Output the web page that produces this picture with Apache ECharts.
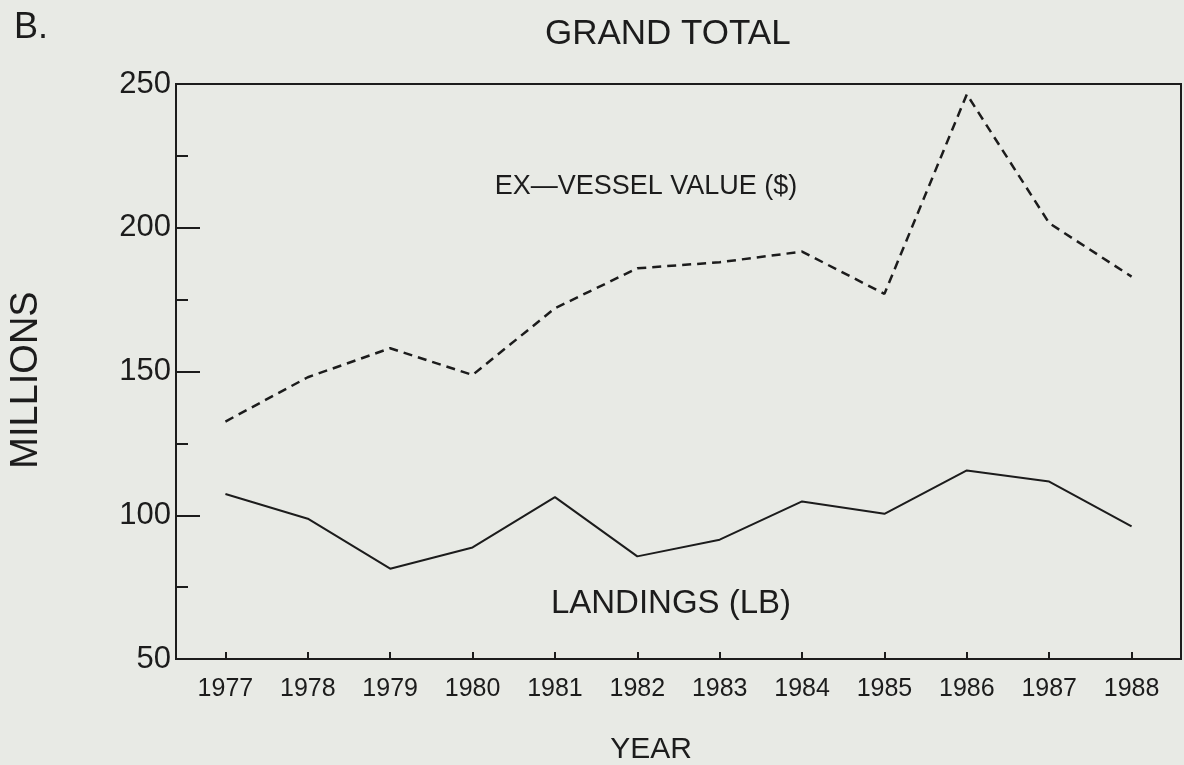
<!DOCTYPE html>
<html>
<head>
<meta charset="utf-8">
<script src="https://cdn.jsdelivr.net/npm/echarts@6/dist/echarts.min.js"></script>
<style>
  html, body { margin: 0; padding: 0; background: #e8eae5; }
  #main { width: 1184px; height: 765px; }
</style>
</head>
<body>
<div id="main"></div>
<script>
// values (millions)
var years = [1977, 1978, 1979, 1980, 1981, 1982, 1983, 1984, 1985, 1986, 1987, 1988];
var landings = [107.4, 98.8, 81.4, 88.8, 106.3, 85.7, 91.5, 104.8, 100.5, 115.6, 111.7, 96.1];
var exVessel = [132.6, 148.0, 158.1, 148.8, 172.0, 185.9, 188.0, 191.7, 177.0, 246.4, 201.6, 183.0];
var yTicks = [50, 100, 150, 200, 250];

var ink = '#1c1c1c';
var font = 'Liberation Sans, Arial, sans-serif';

var chart = echarts.init(document.getElementById('main'));

chart.setOption({
  animation: false,
  backgroundColor: '#e8eae5',
  title: {
    text: 'GRAND TOTAL',
    left: 540,
    top: 12,
    textStyle: { fontFamily: font, fontWeight: 'normal', fontSize: 35, color: ink }
  },
  grid: {
    left: 176,
    right: 3,
    top: 84,
    bottom: 106,
    show: true,
    borderColor: ink,
    borderWidth: 2,
    backgroundColor: 'transparent'
  },
  xAxis: {
    type: 'value',
    min: years[0] - 0.6,
    max: years[years.length - 1] + 0.6,
    splitLine: { show: false },
    axisLine: { lineStyle: { color: ink, width: 2 } },
    axisTick: {
      customValues: years,
      inside: true,
      length: 7,
      lineStyle: { color: ink, width: 2 }
    },
    axisLabel: {
      customValues: years,
      formatter: function (v) { return String(v); },
      margin: 18,
      fontFamily: font,
      fontSize: 25,
      color: ink
    }
  },
  yAxis: {
    type: 'value',
    min: yTicks[0],
    max: yTicks[yTicks.length - 1],
    interval: 50,
    splitLine: { show: false },
    axisLine: { show: true, lineStyle: { color: ink, width: 2 } },
    axisTick: { inside: true, length: 24, lineStyle: { color: ink, width: 2 } },
    minorTick: { show: true, splitNumber: 2, length: 12, lineStyle: { color: ink, width: 2 } },
    minorSplitLine: { show: false },
    axisLabel: { margin: 5, fontFamily: font, fontSize: 31, color: ink }
  },
  graphic: [
    { type: 'text', left: 14, top: 10, style: { text: 'B.', font: '36px ' + font, fill: ink } },
    {
      type: 'text', x: 27, y: 380, rotation: Math.PI / 2,
      style: { text: 'MILLIONS', font: '38px ' + font, fill: ink, align: 'center', verticalAlign: 'middle' }
    },
    {
      type: 'text', x: 651, y: 750,
      style: { text: 'YEAR', font: '30px ' + font, fill: ink, align: 'center', verticalAlign: 'middle' }
    },
    {
      type: 'text', x: 646, y: 187,
      style: { text: 'EX\u2014VESSEL VALUE ($)', font: '27px ' + font, fill: ink, align: 'center', verticalAlign: 'middle' }
    },
    {
      type: 'text', x: 671, y: 604,
      style: { text: 'LANDINGS (LB)', font: '33px ' + font, fill: ink, align: 'center', verticalAlign: 'middle' }
    }
  ],
  series: [
    {
      name: 'EX-VESSEL VALUE ($)',
      type: 'line',
      symbol: 'none',
      data: years.map(function (y, i) { return [y, exVessel[i]]; }),
      lineStyle: { color: ink, width: 2.5, type: [9, 6] }
    },
    {
      name: 'LANDINGS (LB)',
      type: 'line',
      symbol: 'none',
      data: years.map(function (y, i) { return [y, landings[i]]; }),
      lineStyle: { color: ink, width: 2 }
    }
  ]
});
</script>
</body>
</html>
